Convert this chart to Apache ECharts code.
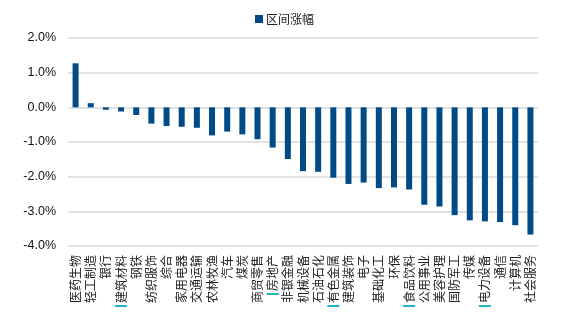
<!DOCTYPE html>
<html>
<head>
<meta charset="utf-8">
<script src="https://cdn.jsdelivr.net/npm/echarts@6/dist/echarts.min.js"></script>
<style>html,body{margin:0;padding:0;background:#fff;}#c{width:570px;height:322px;}</style>
</head>
<body>
<div id="c"></div>
<script>
const categories = ['医药生物','轻工制造','银行','建筑材料','钢铁','纺织服饰','综合','家用电器','交通运输','农林牧渔','汽车','煤炭','商贸零售','房地产','非银金融','机械设备','石油石化','有色金属','建筑装饰','电子','基础化工','环保','食品饮料','公用事业','美容护理','国防军工','传媒','电力设备','通信','计算机','社会服务'];
const values = [1.27,0.12,-0.07,-0.12,-0.22,-0.47,-0.54,-0.56,-0.59,-0.81,-0.70,-0.78,-0.92,-1.16,-1.49,-1.84,-1.86,-2.03,-2.21,-2.17,-2.33,-2.31,-2.37,-2.81,-2.86,-3.11,-3.26,-3.29,-3.31,-3.40,-3.67];
const seriesName = '区间涨幅';
const markedCats = ['建筑材料','房地产','有色金属','食品饮料','电力设备'];
const yTicks = [-4,-3,-2,-1,0,1,2];

const chart = echarts.init(document.getElementById('c'));
chart.setOption({
  animation: false,
  backgroundColor: '#fff',
  legend: {
    data: [seriesName],
    left: 250, top: 8,
    itemWidth: 8, itemHeight: 8, itemGap: 4,
    icon: 'rect',
    textStyle: {fontFamily: 'Noto Sans CJK SC', fontSize: 12, color: '#222', padding: [0, 0, 0, -2]}
  },
  grid: {left: 68, right: 32, top: 38, bottom: 76, containLabel: false},
  xAxis: {
    type: 'category',
    data: categories,
    position: 'bottom',
    axisLine: {show: false, onZero: false},
    axisTick: {show: false},
    axisLabel: {
      interval: 0, rotate: 90, margin: 9,
      fontFamily: 'Noto Sans CJK SC', fontSize: 12, color: '#222',
      formatter: function (v) {
        return markedCats.indexOf(v) >= 0 ? '{c| }{s| }{t|' + v + '}' : '{t|' + v + '}';
      },
      rich: {
        t: {fontFamily: 'Noto Sans CJK SC', fontSize: 12, color: '#222'},
        c: {width: 2, height: 12, backgroundColor: '#22b2c9', fontSize: 1},
        s: {width: 2, fontSize: 1}
      }
    }
  },
  yAxis: {
    type: 'value',
    min: yTicks[0], max: yTicks[yTicks.length - 1], interval: 1,
    axisLine: {show: false},
    axisTick: {show: false},
    axisLabel: {
      margin: 12,
      fontFamily: 'Liberation Sans', fontSize: 12.5, color: '#111',
      formatter: function (v) { return v.toFixed(1) + '%'; }
    },
    splitLine: {lineStyle: {color: '#d9d9d9', width: 1.5}}
  },
  series: [{
    name: seriesName,
    type: 'bar',
    data: values,
    barWidth: 6,
    itemStyle: {color: '#004A87'}
  }]
});
</script>
</body>
</html>
